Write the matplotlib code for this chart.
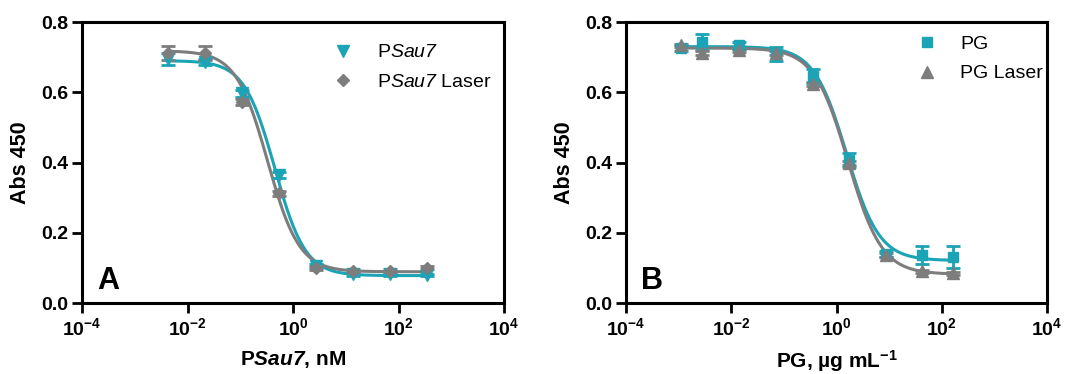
#External libraries import
import matplotlib
matplotlib.use('Agg')
import matplotlib.pyplot as plt
from matplotlib.lines import Line2D
import numpy as np

#Data
sau7_conc = [0.00435, 0.0218, 0.109, 0.544, 2.72, 13.6, 68, 340]
sau7_abs = [0.695, 0.686, 0.597, 0.365, 0.105, 0.082, 0.082, 0.080]
sau7_err = [0.018, 0.008, 0.010, 0.008, 0.006, 0.004, 0.004, 0.004]
sau7_laser_abs = [0.713, 0.712, 0.573, 0.312, 0.099, 0.092, 0.092, 0.100]
sau7_laser_err = [0.020, 0.020, 0.008, 0.006, 0.006, 0.004, 0.004, 0.004]

pg_conc = [0.0011, 0.0028, 0.014, 0.07, 0.35, 1.75, 8.7, 43, 160]
pg_abs = [0.726, 0.743, 0.734, 0.710, 0.645, 0.407, 0.140, 0.137, 0.131]
pg_err = [0.008, 0.022, 0.010, 0.020, 0.020, 0.020, 0.008, 0.025, 0.030]
pg_laser_abs = [0.734, 0.712, 0.720, 0.712, 0.623, 0.398, 0.137, 0.090, 0.085]
pg_laser_err = [0.004, 0.006, 0.004, 0.006, 0.006, 0.006, 0.006, 0.004, 0.004]

#4PL fit parameters (top, bottom, EC50, hill)
sau7_fit = (0.690, 0.078, 0.45, 1.5)
sau7_laser_fit = (0.718, 0.089, 0.33, 1.45)
pg_fit = (0.730, 0.121, 1.55, 1.4)
pg_laser_fit = (0.726, 0.082, 1.65, 1.35)

CYAN = '#1ba3b6'
GRAY = '#7d7d7d'

plt.rcParams['font.family'] = ['Liberation Sans', 'DejaVu Sans']
plt.rcParams['mathtext.fontset'] = 'custom'
plt.rcParams['mathtext.rm'] = 'Liberation Sans:bold'
plt.rcParams['mathtext.bf'] = 'Liberation Sans:bold'
plt.rcParams['mathtext.it'] = 'Liberation Sans:bold:italic'
#tt / sf used as bold-italic and plain italic, so digits stay slanted too
plt.rcParams['mathtext.tt'] = 'Liberation Sans:bold:italic'
plt.rcParams['mathtext.sf'] = 'Liberation Sans:italic'


def four_pl(x, params):
    top, bottom, ec50, hill = params
    return bottom + (top - bottom) / (1 + (x / ec50) ** hill)


def panel(ax, conc, series, letter, xlabel, legend_labels, legend_anchor):
    """Draw one dose response panel"""
    xfit = np.logspace(np.log10(min(conc)), np.log10(max(conc)), 300)
    handles = []
    for (vals, errs, fit, color, marker, ms), lab in zip(series, legend_labels):
        ax.plot(xfit, four_pl(xfit, fit), color=color, lw=2.2, zorder=2)
        ax.errorbar(conc, vals, yerr=errs, fmt=marker, color=color, ms=ms,
                    capsize=5, elinewidth=2, capthick=2, zorder=3)
        handles.append(Line2D([], [], ls='none', marker=marker, color=color,
                              ms=ms, label=lab))
    ax.set_xscale('log')
    ax.set_xlim(1e-4, 1e4)
    ax.set_ylim(0, 0.8)
    ax.set_xticks([1e-4, 1e-2, 1e0, 1e2, 1e4])
    ax.set_xticklabels([r'$10^{-4}$', r'$10^{-2}$', r'$10^{0}$', r'$10^{2}$', r'$10^{4}$'])
    ax.minorticks_off()
    ax.set_yticks([0, 0.2, 0.4, 0.6, 0.8])
    ax.set_yticklabels(['0.0', '0.2', '0.4', '0.6', '0.8'], fontweight='bold')
    ax.tick_params(direction='out', length=7, width=2, labelsize=14, pad=3)
    for s in ax.spines.values():
        s.set_linewidth(2.2)
    ax.set_ylabel('Abs 450', fontsize=15.5, fontweight='bold', labelpad=7)
    ax.set_xlabel(xlabel, fontsize=15, fontweight='bold', labelpad=7)
    ax.text(0.035, 0.05, letter, transform=ax.transAxes, fontsize=22,
            fontweight='bold')
    ax.legend(handles=handles, loc='upper left', bbox_to_anchor=legend_anchor,
              frameon=False, fontsize=14, handletextpad=0.7, labelspacing=0.6,
              borderaxespad=0)


fig = plt.figure(figsize=(10.67, 3.74), dpi=100)
ax1 = fig.add_axes([0.0769, 0.1898, 0.3955, 0.7513])
ax2 = fig.add_axes([0.5867, 0.1898, 0.3946, 0.7513])

panel(ax1, sau7_conc,
      [(sau7_abs, sau7_err, sau7_fit, CYAN, 'v', 8),
       (sau7_laser_abs, sau7_laser_err, sau7_laser_fit, GRAY, 'D', 6)],
      'A', r'P$\mathtt{Sau7}$, nM',
      [r'P$\mathsf{Sau7}$', r'P$\mathsf{Sau7}$ Laser'], (0.555, 0.95))
panel(ax2, pg_conc,
      [(pg_abs, pg_err, pg_fit, CYAN, 's', 7),
       (pg_laser_abs, pg_laser_err, pg_laser_fit, GRAY, '^', 8)],
      'B', r'PG, µg mL$^{-1}$',
      ['PG', 'PG Laser'], (0.65, 0.98))

plt.savefig('out.png', dpi=100)
